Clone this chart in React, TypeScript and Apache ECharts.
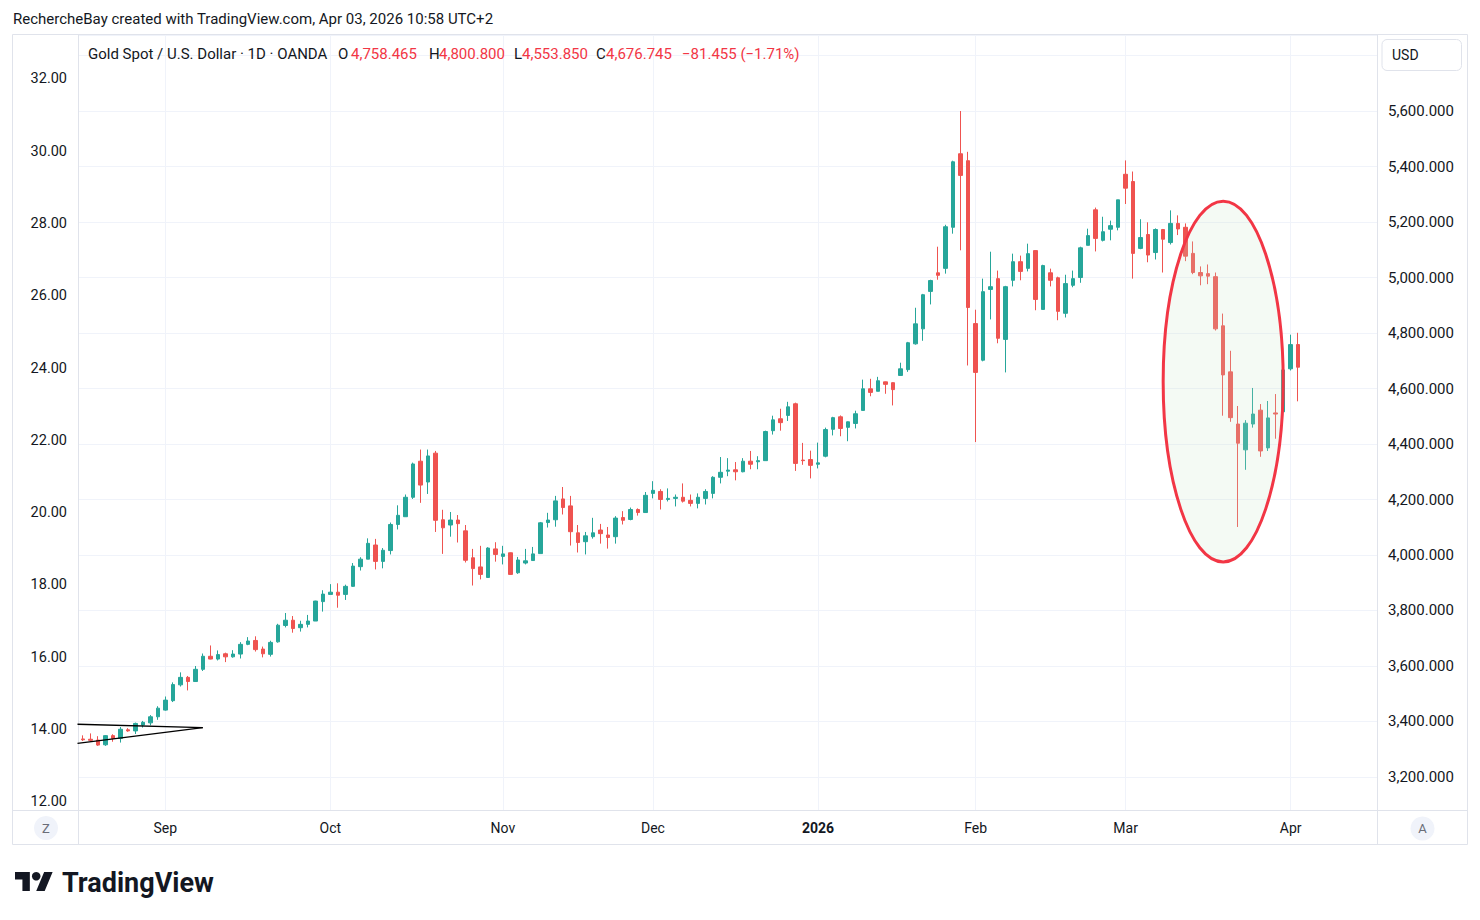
import React, { useEffect, useRef } from 'react';
import * as echarts from 'echarts';

// ---- data : [open, close, low, high] ----
const augDays = [15, 18, 19, 20, 21, 22, 25, 26, 27, 28, 29];
const augBars = [
  [3337, 3334, 3330, 3350], [3336, 3332, 3327, 3357], [3333, 3315, 3312, 3347], [3316, 3349, 3312, 3351],
  [3349, 3339, 3327, 3354], [3339, 3372, 3324, 3380], [3370, 3366, 3363, 3376], [3366, 3393, 3355, 3396],
  [3387, 3397, 3378, 3402], [3395, 3417, 3386, 3423], [3417, 3448, 3406, 3455],
];
const sepDays = [1, 2, 3, 4, 5, 8, 9, 10, 11, 12, 15, 16, 17, 18, 19, 22, 23, 24, 25, 26, 29, 30];
const sepBars = [
  [3441, 3477, 3439, 3490], [3475, 3533, 3470, 3541], [3532, 3559, 3526, 3577], [3559, 3544, 3512, 3564],
  [3544, 3588, 3543, 3600], [3588, 3635, 3582, 3645], [3635, 3625, 3624, 3674], [3625, 3641, 3620, 3656],
  [3644, 3633, 3614, 3648], [3633, 3643, 3630, 3657], [3643, 3678, 3627, 3686], [3678, 3690, 3675, 3704],
  [3692, 3659, 3652, 3707], [3661, 3644, 3631, 3670], [3642, 3685, 3634, 3691], [3687, 3747, 3684, 3752],
  [3746, 3765, 3739, 3791], [3765, 3735, 3720, 3780], [3738, 3750, 3724, 3763], [3750, 3762, 3739, 3784],
  [3762, 3834, 3762, 3835], [3832, 3859, 3796, 3873],
];
const octDays = [1, 2, 3, 6, 7, 8, 9, 10, 13, 14, 15, 16, 17, 20, 21, 22, 23, 24, 27, 28, 29, 30, 31];
const octBars = [
  [3858, 3866, 3858, 3895], [3866, 3855, 3810, 3898], [3858, 3887, 3838, 3893], [3887, 3960, 3885, 3971],
  [3958, 3985, 3944, 3992], [3985, 4042, 3985, 4060], [4036, 3977, 3948, 4058], [3977, 4017, 3952, 4025],
  [4016, 4110, 4002, 4117], [4110, 4143, 4092, 4179], [4138, 4208, 4138, 4218], [4208, 4328, 4202, 4333],
  [4338, 4252, 4188, 4380], [4263, 4357, 4220, 4380], [4367, 4125, 4083, 4375], [4127, 4098, 4004, 4163],
  [4108, 4126, 4066, 4155], [4126, 4113, 4045, 4144], [4087, 3981, 3973, 4108], [3990, 3951, 3890, 4022],
  [3957, 3930, 3912, 4033], [3919, 4025, 3919, 4028], [4022, 4002, 3976, 4046],
];
const novDays = [3, 4, 5, 6, 7, 10, 11, 12, 13, 14, 17, 18, 19, 20, 21, 24, 25, 26, 27, 28];
const novBars = [
  [3995, 4004, 3966, 4033], [4008, 3930, 3929, 4009], [3936, 3982, 3932, 3993], [3971, 3979, 3966, 4022],
  [3980, 4004, 3980, 4029], [4005, 4116, 4005, 4119], [4117, 4126, 4099, 4152], [4127, 4195, 4102, 4213],
  [4202, 4171, 4146, 4245], [4177, 4084, 4034, 4213], [4080, 4045, 4009, 4108], [4048, 4069, 4002, 4083],
  [4066, 4080, 4059, 4134], [4090, 4077, 4041, 4112], [4072, 4063, 4023, 4101], [4066, 4133, 4041, 4140],
  [4135, 4125, 4110, 4158], [4128, 4164, 4125, 4171], [4164, 4153, 4142, 4168], [4153, 4215, 4153, 4227],
];
const decDays = [1, 2, 3, 4, 5, 8, 9, 10, 11, 12, 15, 16, 17, 18, 19, 22, 23, 24, 26, 29, 30, 31];
const decBars = [
  [4222, 4233, 4204, 4266], [4229, 4200, 4164, 4237], [4200, 4204, 4193, 4240], [4204, 4208, 4175, 4218],
  [4208, 4194, 4189, 4258], [4197, 4186, 4175, 4218], [4186, 4208, 4168, 4222], [4204, 4229, 4182, 4237],
  [4222, 4280, 4204, 4284], [4280, 4298, 4258, 4353], [4302, 4306, 4284, 4349], [4307, 4300, 4269, 4335],
  [4300, 4338, 4298, 4349], [4338, 4327, 4309, 4375], [4336, 4340, 4309, 4356], [4340, 4445, 4340, 4448],
  [4448, 4487, 4434, 4502], [4491, 4477, 4448, 4527], [4503, 4534, 4483, 4552], [4545, 4330, 4303, 4549],
  [4342, 4340, 4325, 4404], [4344, 4323, 4276, 4376],
];
const janDays = [2, 5, 6, 7, 8, 9, 12, 13, 14, 15, 16, 19, 20, 21, 22, 23, 26, 27, 28, 29, 30];
const janBars = [
  [4327, 4332, 4312, 4405], [4356, 4452, 4352, 4459], [4453, 4495, 4431, 4498], [4498, 4456, 4428, 4503],
  [4460, 4480, 4410, 4481], [4474, 4509, 4456, 4520], [4521, 4599, 4521, 4632], [4599, 4586, 4572, 4635],
  [4590, 4628, 4590, 4642], [4624, 4615, 4581, 4625], [4621, 4596, 4539, 4622], [4647, 4671, 4647, 4693],
  [4668, 4765, 4660, 4768], [4761, 4833, 4758, 4891], [4815, 4938, 4772, 4941], [4950, 4989, 4903, 4992],
  [5017, 5008, 4992, 5111], [5033, 5183, 5014, 5190], [5181, 5417, 5158, 5421], [5446, 5368, 5098, 5600],
  [5421, 4892, 4683, 5453],
];
const febDays = [2, 3, 4, 5, 6, 9, 10, 11, 12, 13, 16, 17, 18, 19, 20, 23, 24, 25, 26, 27];
const febBars = [
  [4834, 4658, 4407, 4884], [4702, 4949, 4698, 4996], [4957, 4967, 4849, 5093], [4996, 4781, 4763, 5025],
  [4777, 4967, 4658, 4970], [4990, 5057, 4968, 5086], [5057, 5022, 4990, 5079], [5033, 5086, 5022, 5122],
  [5097, 4921, 4882, 5098], [4885, 5043, 4885, 5046], [5017, 4990, 4968, 5032], [4999, 4878, 4846, 5003],
  [4871, 4978, 4856, 5010], [4972, 4996, 4965, 5025], [5000, 5107, 4981, 5111], [5116, 5151, 5116, 5176],
  [5244, 5141, 5094, 5252], [5134, 5165, 5130, 5219], [5174, 5187, 5134, 5205], [5181, 5280, 5170, 5280],
];
const marDays = [2, 3, 4, 5, 6, 9, 10, 11, 12, 13, 16, 17, 18, 19, 20, 23, 24, 25, 26, 27, 30, 31];
const marBars = [
  [5372, 5322, 5265, 5422], [5346, 5087, 4996, 5382], [5105, 5144, 5102, 5210], [5155, 5081, 5055, 5199],
  [5090, 5173, 5065, 5177], [5173, 5138, 5018, 5175], [5126, 5195, 5119, 5242], [5195, 5175, 5153, 5224],
  [5181, 5077, 5059, 5195], [5087, 5018, 5012, 5130], [5018, 5006, 4972, 5040], [5014, 5005, 4976, 5047],
  [5003, 4815, 4809, 5018], [4826, 4649, 4502, 4870], [4660, 4495, 4480, 4736], [4472, 4403, 4101, 4537],
  [4379, 4475, 4307, 4486], [4472, 4508, 4459, 4602], [4522, 4375, 4354, 4544], [4386, 4494, 4375, 4555],
  [4512, 4508, 4419, 4580], [4516, 4667, 4484, 4668],
];
const aprDays = [1, 2];
const aprBars = [
  [4671, 4758.2, 4665, 4794],
  [4758.465, 4676.745, 4553.85, 4800.8],
];

const monthKeys = ['2025-08', '2025-09', '2025-10', '2025-11', '2025-12', '2026-01', '2026-02', '2026-03', '2026-04'];
const monthDays = [augDays, sepDays, octDays, novDays, decDays, janDays, febDays, marDays, aprDays];
const monthBars = [augBars, sepBars, octBars, novBars, decBars, janBars, febBars, marBars, aprBars];
const monthLabels = ['', 'Sep', 'Oct', 'Nov', 'Dec', '2026', 'Feb', 'Mar', 'Apr'];

// drawings (data coordinates: [bar index, price])
const trendA = [[-0.7, 3390], [16, 3378]];
const trendB = [[-0.7, 3321], [16, 3378]];
const ellipseIdx = [144, 160];
const ellipsePrice = [3975, 5275];

const legendParts = [
  { t: 'Gold Spot / U.S. Dollar · 1D · OANDA', x: 88, c: 'k' },
  { t: 'O', x: 338, c: 'k' }, { t: '4,758.465', x: 351, c: 'r' },
  { t: 'H', x: 429, c: 'k' }, { t: '4,800.800', x: 439, c: 'r' },
  { t: 'L', x: 514, c: 'k' }, { t: '4,553.850', x: 522, c: 'r' },
  { t: 'C', x: 596, c: 'k' }, { t: '4,676.745', x: 606, c: 'r' },
  { t: '−81.455 (−1.71%)', x: 682, c: 'r' },
];

const dates: string[] = [];
const candles: number[][] = [];
const labelAt: Record<number, string> = {};
monthKeys.forEach((key, mi) => {
  monthDays[mi].forEach((d, di) => {
    if (di === 0 && monthLabels[mi]) labelAt[dates.length] = monthLabels[mi];
    dates.push(`${key}-${String(d).padStart(2, '0')}`);
    candles.push(monthBars[mi][di]);
  });
});
const PAD = 10;
const categories = [...dates, ...Array.from({ length: PAD }, (_, i) => `pad${i}`)];

const TVPATH = 'M14 22H7V11H0V4h14v18zM28 22h-8l7.5-18h8L28 22z';
try {
  echarts.graphic.registerShape('tvlogo', echarts.graphic.extendPath(TVPATH, {}) as any);
} catch (e) { /* already registered */ }

const INK = '#131722';
const RED = '#f23645';
const UP = '#26a69a';
const DOWN = '#ef5350';
const FRAME = '#e0e3eb';
const GRIDC = '#f0f3fa';
const FONT = 'Roboto, "Noto Sans", sans-serif';

export default function App() {
  const ref = useRef<HTMLDivElement>(null);
  useEffect(() => {
    const chart = echarts.init(ref.current!, undefined, { renderer: 'svg', width: 1480, height: 920 });
    const option: any = {
      animation: false,
      backgroundColor: '#ffffff',
      textStyle: { fontFamily: FONT },
      grid: { left: 79, top: 35, width: 1298, height: 775, containLabel: false },
      xAxis: {
        type: 'category',
        data: categories,
        boundaryGap: true,
        axisLine: { show: false },
        axisTick: { show: false },
        splitLine: { show: false },
        axisLabel: {
          interval: (idx: number) => labelAt[idx] !== undefined,
          formatter: (_v: string, idx: number) => {
            const l = labelAt[idx];
            if (!l) return '';
            return l === '2026' ? '{b|2026}' : l;
          },
          color: INK,
          fontSize: 14,
          fontFamily: FONT,
          margin: 11,
          rich: { b: { fontWeight: 'bold', fontSize: 14, color: INK, fontFamily: FONT } },
        },
      },
      yAxis: [
        {
          type: 'value',
          position: 'right',
          min: 3081,
          max: 5874,
          splitNumber: 14,
          scale: true,
          axisLine: { show: false },
          axisTick: { show: false },
          splitLine: { show: true, lineStyle: { color: GRIDC, width: 1 } },
          axisLabel: {
            color: INK,
            fontSize: 15,
            fontFamily: FONT,
            margin: 11,
            formatter: (v: number) => {
              if (Math.abs(v / 200 - Math.round(v / 200)) > 1e-6 || v > 5700) return '';
              return v.toLocaleString('en-US', { minimumFractionDigits: 3, maximumFractionDigits: 3 });
            },
          },
        },
        {
          type: 'value',
          position: 'left',
          min: 11.775,
          max: 33.215,
          splitNumber: 11,
          scale: true,
          axisLine: { show: false },
          axisTick: { show: false },
          splitLine: { show: false },
          axisLabel: {
            color: INK,
            fontSize: 14.5,
            fontFamily: FONT,
            margin: 12,
            formatter: (v: number) => (Math.abs(v - Math.round(v)) > 1e-6 ? '' : v.toFixed(2)),
          },
        },
      ],
      series: [
        {
          type: 'candlestick',
          xAxisIndex: 0,
          yAxisIndex: 0,
          data: candles,
          barWidth: 4,
          itemStyle: {
            color: UP,
            color0: DOWN,
            borderColor: UP,
            borderColor0: DOWN,
            borderWidth: 1,
          },
          markLine: {
            silent: true,
            z: 1,
            symbol: ['none', 'none'],
            label: { show: false },
            lineStyle: { color: GRIDC, width: 1, type: 'solid' },
            emphasis: { disabled: true },
            data: Object.keys(labelAt).map((i) => ({ xAxis: categories[Number(i)] })),
          },
        },
      ],
    };
    chart.setOption(option);

    const px = (i: number, p: number) =>
      chart.convertToPixel({ xAxisIndex: 0, yAxisIndex: 0 }, [categories[i], p]) as number[];
    const pxf = (fi: number, p: number) => {
      const a = px(0, p);
      const b = px(16, p);
      return [a[0] + (fi / 16) * (b[0] - a[0]), a[1]];
    };
    const line = (seg: number[][]) => {
      const s = pxf(seg[0][0], seg[0][1]);
      const e = pxf(seg[1][0], seg[1][1]);
      return {
        type: 'line', z: 100, silent: true,
        shape: { x1: s[0], y1: s[1], x2: e[0], y2: e[1] },
        style: { stroke: '#000000', lineWidth: 1.4 },
      };
    };
    const eL = px(ellipseIdx[0], ellipsePrice[0]);
    const eR = px(ellipseIdx[1], ellipsePrice[1]);
    const cx = (eL[0] + eR[0]) / 2;
    const cy = (eL[1] + eR[1]) / 2;
    const rx = Math.abs(eR[0] - eL[0]) / 2;
    const ry = Math.abs(eR[1] - eL[1]) / 2;

    const s = 1.06;
    const logoX = 15;
    const logoY = 872 - 4 * s;

    const graphic: any[] = [
      { type: 'rect', z: 50, silent: true, shape: { x: 12.5, y: 34.5, width: 1455, height: 810 }, style: { fill: 'none', stroke: FRAME, lineWidth: 1 } },
      { type: 'line', z: 50, silent: true, shape: { x1: 78.5, y1: 35, x2: 78.5, y2: 845 }, style: { stroke: FRAME, lineWidth: 1 } },
      { type: 'line', z: 50, silent: true, shape: { x1: 1377.5, y1: 35, x2: 1377.5, y2: 845 }, style: { stroke: FRAME, lineWidth: 1 } },
      { type: 'line', z: 50, silent: true, shape: { x1: 13, y1: 810.5, x2: 1467, y2: 810.5 }, style: { stroke: FRAME, lineWidth: 1 } },
      {
        type: 'text', z: 50, x: 13, y: 19, silent: true,
        style: { text: 'RechercheBay created with TradingView.com, Apr 03, 2026 10:58 UTC+2', fill: INK, fontSize: 15, fontFamily: FONT, align: 'left', verticalAlign: 'middle' },
      },
      ...legendParts.map((p) => ({
        type: 'text', z: 50, x: p.x, y: 54, silent: true,
        style: { text: p.t, fill: p.c === 'r' ? RED : INK, fontSize: 15, fontFamily: FONT, align: 'left', verticalAlign: 'middle' },
      })),
      { type: 'rect', z: 60, silent: true, shape: { x: 1382, y: 39.5, width: 79.5, height: 31, r: 5 }, style: { fill: '#ffffff', stroke: FRAME, lineWidth: 1 } },
      { type: 'text', z: 61, x: 1392, y: 55, silent: true, style: { text: 'USD', fill: INK, fontSize: 14, fontFamily: FONT, align: 'left', verticalAlign: 'middle' } },
      { type: 'circle', z: 50, silent: true, shape: { cx: 46, cy: 828, r: 12 }, style: { fill: '#f0f3fa' } },
      { type: 'text', z: 51, x: 46, y: 828, silent: true, style: { text: 'Z', fill: '#6a6d78', fontSize: 13, fontFamily: FONT, align: 'center', verticalAlign: 'middle' } },
      { type: 'circle', z: 50, silent: true, shape: { cx: 1422.5, cy: 828.5, r: 12 }, style: { fill: '#f0f3fa' } },
      { type: 'text', z: 51, x: 1422.5, y: 828.5, silent: true, style: { text: 'A', fill: '#6a6d78', fontSize: 13, fontFamily: FONT, align: 'center', verticalAlign: 'middle' } },
      { type: 'tvlogo', z: 50, silent: true, x: logoX, y: logoY, scaleX: s, scaleY: s, style: { fill: INK } },
      { type: 'circle', z: 50, silent: true, shape: { cx: logoX + 20 * s, cy: logoY + 8 * s, r: 4 * s }, style: { fill: INK } },
      {
        type: 'text', z: 50, x: 62, y: 883, silent: true,
        style: { text: 'TradingView', fill: INK, fontSize: 27, fontWeight: 'bold', fontFamily: FONT, align: 'left', verticalAlign: 'middle' },
      },
      line(trendA),
      line(trendB),
      {
        type: 'ellipse', z: 100, silent: true,
        shape: { cx, cy, rx, ry },
        style: { fill: 'rgba(200,230,201,0.2)', stroke: RED, lineWidth: 3 },
      },
    ];
    chart.setOption({ graphic });
    return () => chart.dispose();
  }, []);
  return (
    <div
      ref={ref}
      style={{ position: 'fixed', left: 0, top: 0, width: 1480, height: 920, background: '#ffffff' }}
    />
  );
}
